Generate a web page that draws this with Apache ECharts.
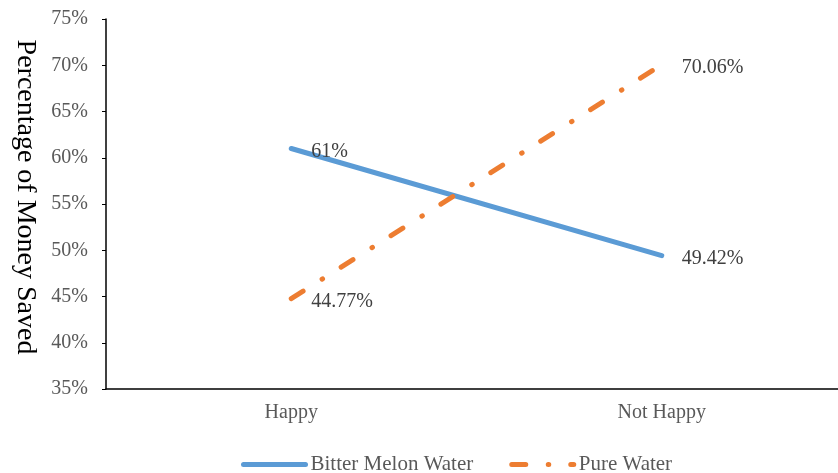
<!DOCTYPE html>
<html>
<head>
<meta charset="utf-8">
<script src="https://cdn.jsdelivr.net/npm/echarts@6/dist/echarts.min.js"></script>
<style>html,body{margin:0;padding:0;background:#fff;}#c{width:838px;height:473px;}</style>
</head>
<body>
<div id="c"></div>
<script>
const categories = ['Happy', 'Not Happy'];
const bitterMelon = [61, 49.42];
const pureWater = [44.77, 70.06];
const seriesNames = ['Bitter Melon Water', 'Pure Water'];
const yTicks = { min: 35, max: 75, interval: 5 };

const font = 'Liberation Serif';
const chart = echarts.init(document.getElementById('c'), null, { renderer: 'canvas' });
const labelCfg = {
  show: true, position: 'right', distance: 19, offset: [1, 3],
  fontFamily: font, fontSize: 20, color: '#404040',
  formatter: p => p.value + '%'
};
chart.setOption({
  animation: false,
  backgroundColor: '#fff',
  grid: { left: 106, top: 19, width: 741, height: 370, containLabel: false, outerBoundsMode: 'none' },
  legend: {
    top: 449, left: 236, itemWidth: 62, itemHeight: 10, itemGap: 36,
    itemStyle: { opacity: 0 },
    lineStyle: { width: 5, cap: 'round' },
    textStyle: { fontFamily: font, fontSize: 21, color: '#595959' },
    data: seriesNames
  },
  xAxis: {
    type: 'category', data: categories, boundaryGap: true,
    axisLine: { lineStyle: { color: '#000', width: 1.5 } },
    axisTick: { alignWithLabel: true, length: 4, lineStyle: { color: '#000' } },
    axisLabel: { margin: 14, fontFamily: font, fontSize: 20, color: '#595959' }
  },
  yAxis: {
    type: 'value', min: yTicks.min, max: yTicks.max, interval: yTicks.interval,
    name: 'Percentage of Money Saved', nameLocation: 'middle', nameGap: 67, nameRotate: -90,
    nameTextStyle: { fontFamily: font, fontSize: 28, color: '#000', padding: [0, 14, 0, 0] },
    axisLine: { show: true, lineStyle: { color: '#000', width: 1.5 } },
    axisTick: { show: true, length: 4, lineStyle: { color: '#000' } },
    splitLine: { show: false },
    axisLabel: { margin: 18, fontFamily: font, fontSize: 20, color: '#595959', formatter: '{value}%' }
  },
  series: [
    {
      name: seriesNames[0], type: 'line', data: bitterMelon,
      symbol: 'circle', symbolSize: 0, showSymbol: true,
      lineStyle: { color: '#5B9BD5', width: 5, cap: 'round' },
      itemStyle: { color: '#5B9BD5' },
      label: labelCfg
    },
    {
      name: seriesNames[1], type: 'line', data: pureWater,
      symbol: 'circle', symbolSize: 0, showSymbol: true,
      lineStyle: { color: '#ED7D31', width: 5, cap: 'round', type: [14, 22.5, 0.5, 22] },
      itemStyle: { color: '#ED7D31' },
      label: labelCfg
    }
  ]
});
</script>
</body>
</html>
